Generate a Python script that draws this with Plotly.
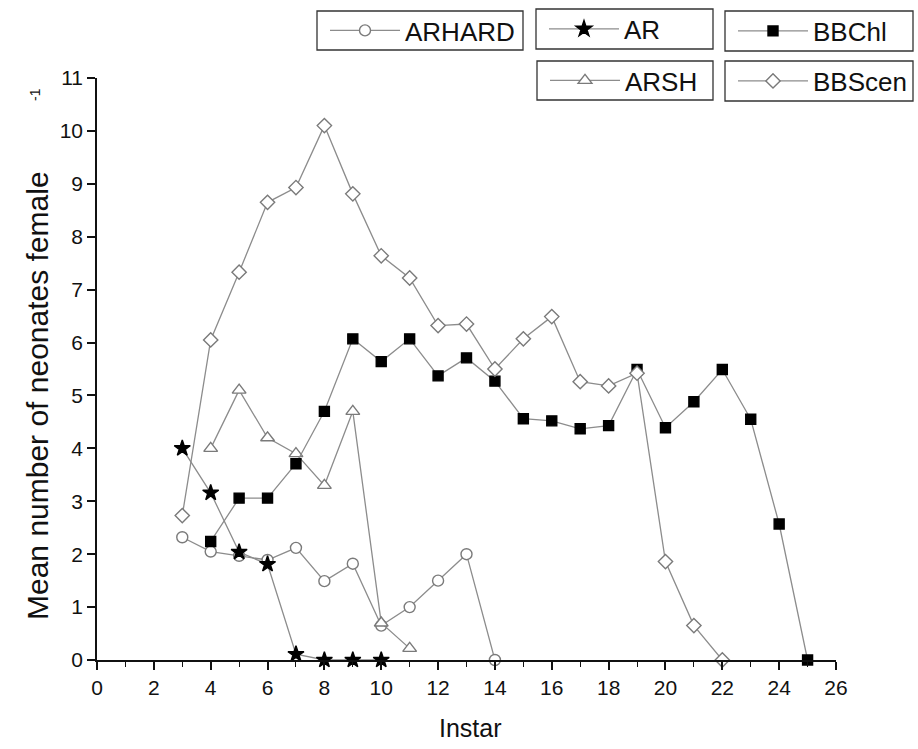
import plotly.graph_objects as go

# ---- data ----
arhard_x = [3, 4, 5, 6, 7, 8, 9, 10, 11, 12, 13, 14]
arhard_y = [2.32, 2.05, 1.97, 1.89, 2.12, 1.49, 1.82, 0.65, 1.0, 1.5, 2.0, 0.0]

ar_x = [3, 4, 5, 6, 7, 8, 9, 10]
ar_y = [4.0, 3.16, 2.04, 1.81, 0.11, 0.0, 0.0, 0.0]

arsh_x = [4, 5, 6, 7, 8, 9, 10, 11]
arsh_y = [4.0, 5.1, 4.2, 3.9, 3.3, 4.7, 0.7, 0.22]

bbchl_x = [4, 5, 6, 7, 8, 9, 10, 11, 12, 13, 14, 15, 16, 17, 18, 19, 20, 21, 22, 23, 24, 25]
bbchl_y = [2.24, 3.06, 3.06, 3.71, 4.7, 6.07, 5.64, 6.07, 5.37, 5.71, 5.27, 4.56, 4.52,
           4.37, 4.43, 5.49, 4.39, 4.88, 5.49, 4.55, 2.57, 0.0]

bbscen_x = [3, 4, 5, 6, 7, 8, 9, 10, 11, 12, 13, 14, 15, 16, 17, 18, 19, 20, 21, 22]
bbscen_y = [2.73, 6.05, 7.33, 8.65, 8.93, 10.1, 8.81, 7.64, 7.22, 6.32, 6.35, 5.5, 6.07,
            6.49, 5.26, 5.18, 5.42, 1.86, 0.65, 0.0]

x_ticks = list(range(0, 27, 2))
y_ticks = list(range(0, 12))

# ---- layout geometry (pixels) ----
W, H = 918, 749
B = 89
PAPER_H = H - B          # paper spans full width and from top to bottom margin
AX_L, AX_R = 97, 836     # plot area x pixels
AX_T = 78                # plot area top pixel


def px(xp):
    return xp / W


def py(yp):
    return (PAPER_H - yp) / PAPER_H


LINE = "#8c8c8c"
OPEN = "#7a7a7a"
FONT = "Liberation Sans, Arial, sans-serif"

fig = go.Figure()


def add(name, x, y, symbol, size, fill, edge, legend):
    fig.add_trace(go.Scatter(
        x=x, y=y, name=name, mode="lines+markers",
        line=dict(color=LINE, width=1.3),
        marker=dict(symbol=symbol, size=size, color=fill,
                    line=dict(color=edge, width=1.4)),
        cliponaxis=False, legend=legend,
    ))


add("ARHARD", arhard_x, arhard_y, "circle", 11, "white", OPEN, "legend")
add("AR", ar_x, ar_y, "star", 12, "black", "black", "legend2")
add("ARSH", arsh_x, arsh_y, "triangle-up", 12, "white", OPEN, "legend4")
add("BBChl", bbchl_x, bbchl_y, "square", 10, "black", "black", "legend3")
add("BBScen", bbscen_x, bbscen_y, "diamond", 11, "white", OPEN, "legend5")

# legend boxes (pixel coords)
boxes = {
    "legend": (317, 11, 523, 50),
    "legend2": (536, 9, 713, 49),
    "legend3": (725, 11, 913, 51),
    "legend4": (537, 61, 713, 100),
    "legend5": (725, 61, 913, 101),
}
shapes = []
legends = {}
for key, (x0, y0, x1, y1) in boxes.items():
    shapes.append(dict(type="rect", xref="paper", yref="paper",
                       x0=px(x0), x1=px(x1), y0=py(y1), y1=py(y0),
                       line=dict(color="#333333", width=1.3), fillcolor="rgba(0,0,0,0)"))
    legends[key] = dict(
        xref="paper", yref="paper",
        x=px(x0 + 8), y=py((y0 + y1) / 2),
        xanchor="left", yanchor="middle",
        bgcolor="rgba(0,0,0,0)", borderwidth=0,
        font=dict(family=FONT, size=26, color="#111111"),
        itemwidth=70, tracegroupgap=0,
    )

annotations = [
    dict(text="Mean number of neonates female", textangle=-90,
         xref="paper", yref="paper", x=px(37), y=py(396),
         xanchor="center", yanchor="middle", showarrow=False,
         font=dict(family=FONT, size=30, color="#111111")),
    dict(text="-1", textangle=-90,
         xref="paper", yref="paper", x=px(35), y=py(95),
         xanchor="center", yanchor="middle", showarrow=False,
         font=dict(family=FONT, size=14, color="#111111")),
    dict(text="Instar", xref="paper", yref="paper", x=px(470), y=py(728),
         xanchor="center", yanchor="middle", showarrow=False,
         font=dict(family=FONT, size=25, color="#111111")),
]

fig.update_layout(
    width=W, height=H,
    margin=dict(l=0, r=0, t=0, b=B, pad=0, autoexpand=False),
    paper_bgcolor="white", plot_bgcolor="white",
    font=dict(family=FONT, color="#111111"),
    showlegend=True,
    shapes=shapes,
    annotations=annotations,
    **legends,
)

fig.update_xaxes(
    domain=[AX_L / W, AX_R / W], automargin=False,
    range=[0, 26], tickvals=x_ticks, ticktext=[str(v) for v in x_ticks],
    showline=True, linecolor="#111111", linewidth=1.6,
    ticks="outside", ticklen=8, tickwidth=1.6, tickcolor="#111111",
    minor=dict(dtick=1, ticks="outside", ticklen=5, tickwidth=1.4, tickcolor="#111111"),
    showgrid=False, zeroline=False,
    tickfont=dict(family=FONT, size=21, color="#111111"),
)
fig.update_yaxes(
    domain=[0, (PAPER_H - AX_T) / PAPER_H], automargin=False,
    range=[0, 11], tickvals=y_ticks, ticktext=[str(v) for v in y_ticks],
    showline=True, linecolor="#111111", linewidth=1.6,
    ticks="outside", ticklen=8, tickwidth=1.6, tickcolor="#111111",
    showgrid=False, zeroline=False,
    tickfont=dict(family=FONT, size=21, color="#111111"),
)

fig.write_html("out.html")
